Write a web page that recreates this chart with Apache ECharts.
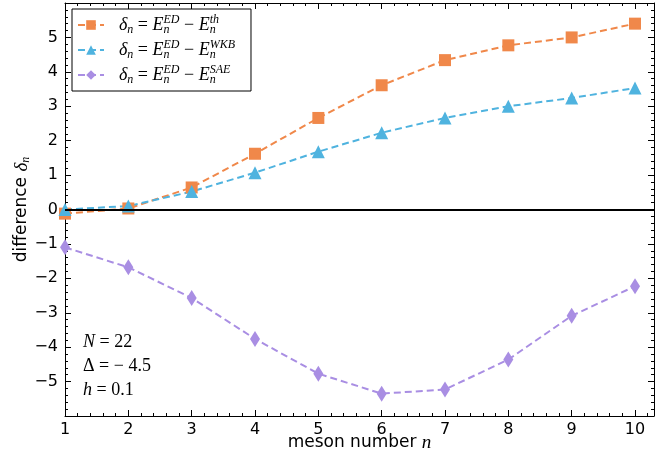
<!DOCTYPE html>
<html>
<head>
<meta charset="utf-8">
<script src="https://cdn.jsdelivr.net/npm/echarts@6/dist/echarts.min.js"></script>
<style>
  html, body { margin: 0; padding: 0; background: #fff; }
  #chart { width: 672px; height: 457px; }
</style>
</head>
<body>
<div id="chart"></div>
<script>
// meson number n
var mesonN = [1, 2, 3, 4, 5, 6, 7, 8, 9, 10];
// delta_n = E^ED - E^th
var deltaTh = [-0.12, 0.03, 0.64, 1.62, 2.66, 3.61, 4.34, 4.77, 5.0, 5.4];
// delta_n = E^ED - E^WKB
var deltaWkb = [0.0, 0.1, 0.52, 1.07, 1.68, 2.23, 2.66, 3.0, 3.24, 3.53];
// delta_n = E^ED - E^SAE
var deltaSae = [-1.1, -1.68, -2.57, -3.76, -4.77, -5.35, -5.23, -4.36, -3.09, -2.23];
var seriesKeys = ['th', 'WKB', 'SAE'];

var pairs = function (ys) {
    return mesonN.map(function (n, i) { return [n, ys[i]]; });
};

var myChart = echarts.init(document.getElementById('chart'));

var frameLine = { color: '#000', width: 1 };
var tickIn = { inside: true, length: 6, lineStyle: { color: '#000', width: 1 } };
var minorIn = { show: true, splitNumber: 5, length: 3, lineStyle: { color: '#000', width: 1 } };

var mathRich = {
    m: { fontFamily: 'Liberation Serif', fontStyle: 'italic', fontSize: 18, color: '#000' },
    r: { fontFamily: 'Liberation Serif', fontSize: 18, color: '#000' },
    sub: { fontFamily: 'Liberation Serif', fontStyle: 'italic', fontSize: 12, color: '#000', padding: [10, 0, 0, 0] },
    subz: { fontFamily: 'Liberation Serif', fontStyle: 'italic', fontSize: 12, color: '#000', padding: [10, 0, 0, 0], width: 0 },
    sup: { fontFamily: 'Liberation Serif', fontStyle: 'italic', fontSize: 12, color: '#000', padding: [0, 0, 10, 0] }
};

function mkLine(name, ys, color, symbol, size) {
    return {
        name: name,
        type: 'line',
        data: pairs(ys),
        symbol: symbol,
        symbolSize: size,
        itemStyle: { color: color },
        lineStyle: { color: color, width: 2, type: [7, 4] },
        z: 3
    };
}

var option = {
    animation: false,
    grid: { left: 65, right: 18, top: 3, bottom: 41, outerBoundsMode: 'none' },
    legend: {
        left: 72, top: 9, orient: 'vertical',
        padding: [5, 16, 5, 5],
        borderColor: '#000', borderWidth: 1,
        backgroundColor: '#fff',
        itemWidth: 26, itemHeight: 12, itemGap: 3,
        data: seriesKeys,
        formatter: function (k) {
            return '   {m|δ}{sub|n}{r| = }{m|E}{subz|n}{sup|ED}{r| − }{m|E}{subz|n}{sup|' + k + '}';
        },
        textStyle: { rich: mathRich }
    },
    xAxis: [{
        type: 'value', min: 1, max: 10.3, interval: 1,
        name: 'meson number {i|n}', nameLocation: 'middle', nameGap: 17, nameMoveOverlap: false,
        nameTextStyle: { fontFamily: 'DejaVu Sans', fontSize: 17, color: '#000',
            rich: { i: { fontFamily: 'Liberation Serif', fontStyle: 'italic', fontSize: 19, color: '#000' } } },
        axisLine: { show: true, onZero: false, lineStyle: frameLine },
        axisTick: tickIn, minorTick: minorIn,
        splitLine: { show: false },
        axisLabel: { showMaxLabel: false, fontFamily: 'DejaVu Sans', fontSize: 16, color: '#000', margin: 6 }
    }, {
        type: 'value', min: 1, max: 10.3, interval: 1, position: 'top',
        axisLine: { show: true, onZero: false, lineStyle: frameLine },
        axisTick: tickIn, minorTick: minorIn,
        splitLine: { show: false }, axisLabel: { show: false }
    }],
    yAxis: [{
        type: 'value', min: -6, max: 6, interval: 1,
        name: 'difference {i|δ}{s|n}', nameLocation: 'middle', nameGap: 33, nameRotate: 90, nameMoveOverlap: false,
        nameTextStyle: { fontFamily: 'DejaVu Sans', fontSize: 17, color: '#000',
            rich: {
                i: { fontFamily: 'Liberation Serif', fontStyle: 'italic', fontSize: 19, color: '#000' },
                s: { fontFamily: 'Liberation Serif', fontStyle: 'italic', fontSize: 12, color: '#000', padding: [9, 0, 0, 0] }
            } },
        axisLine: { show: true, onZero: false, lineStyle: frameLine },
        axisTick: tickIn, minorTick: minorIn,
        splitLine: { show: false },
        axisLabel: {
            fontFamily: 'DejaVu Sans', fontSize: 16, color: '#000', margin: 7,
            formatter: function (v) {
                if (Math.abs(v) >= 6) return '';
                return v < 0 ? '\u2212' + Math.abs(v) : String(v);
            }
        }
    }, {
        type: 'value', min: -6, max: 6, interval: 1, position: 'right',
        axisLine: { show: true, onZero: false, lineStyle: frameLine },
        axisTick: tickIn, minorTick: minorIn,
        splitLine: { show: false }, axisLabel: { show: false }
    }],
    series: [
        Object.assign(mkLine('th', deltaTh, '#f0884a', 'rect', 12), {
            markLine: {
                silent: true, symbol: 'none', label: { show: false },
                lineStyle: { color: '#000', width: 2, type: 'solid' },
                data: [{ yAxis: 0 }]
            }
        }),
        mkLine('WKB', deltaWkb, '#4fb3df', 'triangle', 13),
        mkLine('SAE', deltaSae, '#a98ee3', 'diamond', [10, 16])
    ],
    graphic: [{
        type: 'group', left: 83, top: 333,
        children: [
            { type: 'text', x: 0, y: 0, style: { text: '{m|N}{r| = 22}', rich: mathRich } },
            { type: 'text', x: 0, y: 24, style: { text: '{r|Δ = − 4.5}', rich: mathRich } },
            { type: 'text', x: 0, y: 48, style: { text: '{m|h}{r| = 0.1}', rich: mathRich } }
        ]
    }]
};

myChart.setOption(option);
</script>
</body>
</html>
